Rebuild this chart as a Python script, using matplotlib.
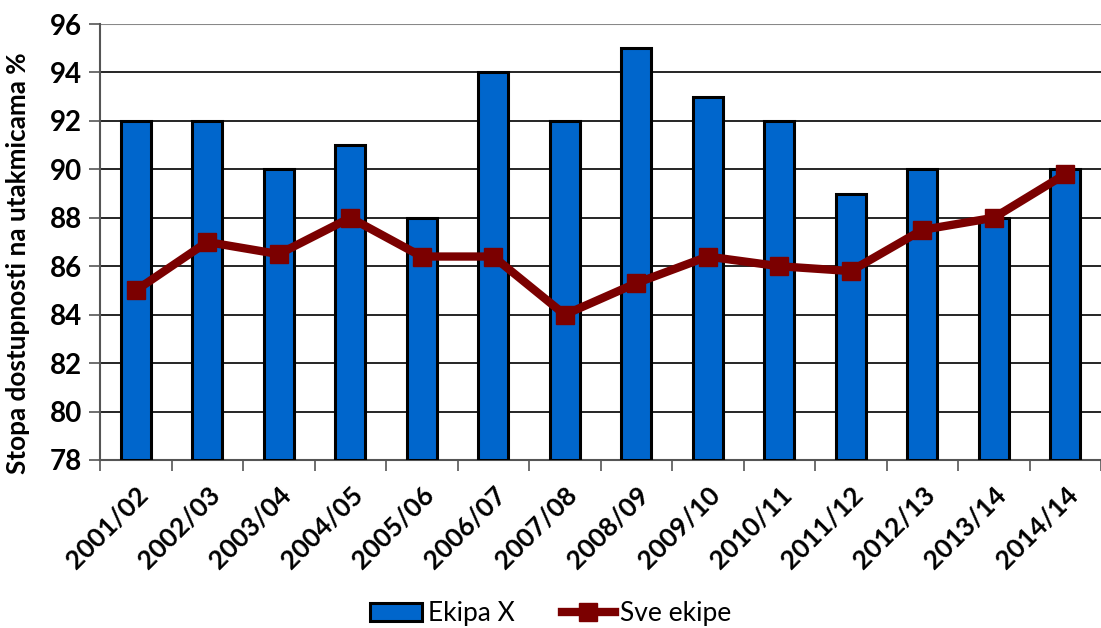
import numpy as np
import matplotlib.pyplot as plt

# data
seasons = ["2001/02", "2002/03", "2003/04", "2004/05", "2005/06", "2006/07", "2007/08",
           "2008/09", "2009/10", "2010/11", "2011/12", "2012/13", "2013/14", "2014/14"]
ekipa_x = [92, 92, 90, 91, 88, 94, 92, 95, 93, 92, 89, 90, 88, 90]
sve_ekipe = [85.0, 87.0, 86.5, 88.0, 86.4, 86.4, 84.0, 85.3, 86.4, 86.0, 85.8, 87.5, 88.0, 89.8]

plt.rcParams['font.family'] = ['Lato', 'DejaVu Sans']

fig = plt.figure(figsize=(11.01, 6.28), dpi=100)
ax = fig.add_axes([100 / 1101, 1 - 460 / 628, 1001 / 1101, 436 / 628])

x = np.arange(len(seasons))
y0 = 78
bars = ax.bar(x, np.array(ekipa_x) - y0, bottom=y0, width=0.42, color="#0066CC",
              edgecolor="black", linewidth=2.2, zorder=3, label="Ekipa X")
line, = ax.plot(x, sve_ekipe, color="#7B0000", lw=6, marker="s", ms=13,
                zorder=4, label="Sve ekipe")

ax.set_xlim(-0.5, len(seasons) - 0.5)
ax.set_ylim(78, 96)
ax.set_yticks(np.arange(78, 97, 2))
ax.tick_params(axis="y", labelsize=20, length=8, width=1.2, color="#555555", pad=5)
for lab in ax.get_yticklabels():
    lab.set_fontweight("bold")

ax.set_xticks(x)
ax.set_xticklabels(seasons, rotation=45, ha="right", rotation_mode="anchor",
                   fontsize=19, fontweight="bold")
ax.tick_params(axis="x", length=0, pad=16)
ax.set_xticks(np.arange(-0.5, len(seasons), 1), minor=True)
ax.tick_params(axis="x", which="minor", length=8, width=1.2, color="#555555")

ax.yaxis.grid(True, color="black", lw=1.2, zorder=0)
ax.set_axisbelow(True)
for s in ["top", "right"]:
    ax.spines[s].set_visible(False)
ax.spines["left"].set_color("#555555")
ax.spines["left"].set_linewidth(1.5)
ax.spines["bottom"].set_color("#555555")
ax.spines["bottom"].set_linewidth(1.5)
ax.axhline(96, color="#888888", lw=1.5, zorder=1)

ax.set_ylabel("Stopa dostupnosti na utakmicama %", fontsize=18.8, fontweight="bold")
ax.yaxis.set_label_coords(-0.070, 0.452)

fig.legend([bars, line], ["Ekipa X", "Sve ekipe"], loc="lower center",
           bbox_to_anchor=(0.5, -0.035), ncol=2, frameon=False,
           fontsize=19, handlelength=2.0, columnspacing=1.8, handletextpad=0.2)

fig.savefig("out.png", dpi=100)
